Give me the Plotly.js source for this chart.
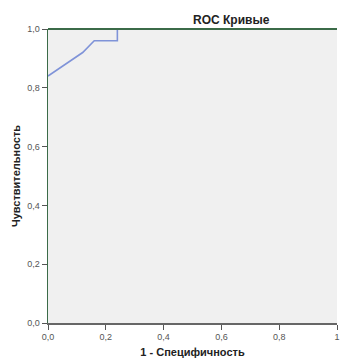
<!DOCTYPE html>
<html><head><meta charset="utf-8">
<script src="https://cdn.plot.ly/plotly-3.0.1.min.js"></script>
<style>html,body{margin:0;padding:0;background:#fff}</style>
</head><body><div id="chart" style="width:341px;height:358px"></div>
<script>
const fpr = [0, 0.12, 0.16, 0.24, 0.24, 1];
const tpr = [0.84, 0.92, 0.96, 0.96, 1, 1];
const xTickVals = [0, 0.2, 0.4, 0.6, 0.8, 1];
const xTickText = ["0,0", "0,2", "0,4", "0,6", "0,8", "1"];
const yTickVals = [0, 0.2, 0.4, 0.6, 0.8, 1];
const yTickText = ["0,0", "0,2", "0,4", "0,6", "0,8", "1,0"];

const trace = {x: fpr, y: tpr, mode: 'lines', line: {color: '#7f93d8', width: 1.6}, hoverinfo: 'skip'};
const fontF = 'Liberation Sans, Arial, sans-serif';
const layout = {
  width: 341, height: 358,
  margin: {l: 48, r: 4, t: 29, b: 35},
  paper_bgcolor: '#ffffff', plot_bgcolor: '#f0f0f0',
  showlegend: false,
  font: {family: fontF, size: 9, color: '#555'},
  xaxis: {range: [0, 1], tickvals: xTickVals, ticktext: xTickText, showgrid: false, zeroline: false,
    showline: true, linecolor: '#666', linewidth: 1.5, ticks: 'outside', ticklen: 5, tickcolor: '#555',
    tickfont: {size: 9, color: '#555'}, ticklabeloverflow: 'allow', fixedrange: true,
    title: {text: '1 - Специфичность', font: {size: 11, color: '#222', family: fontF, weight: 'bold'}, standoff: 10}},
  yaxis: {range: [0, 1], tickvals: yTickVals, ticktext: yTickText, showgrid: false, zeroline: false,
    showline: true, linecolor: '#3b6b48', linewidth: 1.5, ticks: 'outside', ticklen: 5, tickcolor: '#555',
    tickfont: {size: 9, color: '#555'}, ticklabelstandoff: 0,
    title: {text: 'Чувствительность', font: {size: 11, color: '#222', family: fontF, weight: 'bold'}, standoff: 4}},
  shapes: [{type: 'line', xref: 'paper', yref: 'paper', x0: 0, x1: 1, y0: 1, y1: 1, layer: 'above',
    line: {color: '#3b6b48', width: 2}}],
  annotations: [{text: '<b>ROC Кривые</b>', xref: 'paper', yref: 'paper', x: 0.635, y: 1, yshift: 0,
    xanchor: 'center', yanchor: 'bottom', showarrow: false, font: {size: 12, color: '#222', family: fontF}}]
};
Plotly.newPlot('chart', [trace], layout, {displayModeBar: false, staticPlot: true});
</script></body></html>
